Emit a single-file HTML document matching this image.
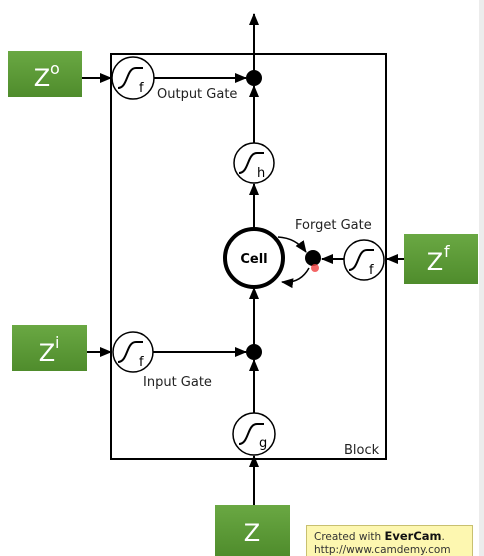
<!DOCTYPE html>
<html><head><style>
html,body{margin:0;padding:0;background:#fff;}
body{width:484px;height:556px;overflow:hidden;position:relative;font-family:"DejaVu Sans","Liberation Sans",sans-serif;}
</style></head><body>
<svg width="484" height="556" viewBox="0 0 484 556" xmlns="http://www.w3.org/2000/svg" style="position:absolute;left:0;top:0">
<defs>
<marker id="a" markerWidth="12" markerHeight="12" refX="11" refY="6" orient="auto" markerUnits="userSpaceOnUse">
<path d="M0,1 L12,6 L0,11 Z" fill="#000"/></marker>
<linearGradient id="g" x1="0" y1="0" x2="0" y2="1"><stop offset="0" stop-color="#6aa843"/><stop offset="1" stop-color="#4f8c2c"/></linearGradient>
<g id="sig"><path d="M-13,10 C-3,10 -5,-10 5,-10 L12,-10" fill="none" stroke="#000" stroke-width="2"/></g>
</defs>
<rect x="479" y="0" width="5" height="556" fill="#ececec"/>
<rect x="111" y="54" width="275" height="405" fill="none" stroke="#000" stroke-width="2"/>
<line x1="254" y1="71" x2="254" y2="14" stroke="#000" stroke-width="2" marker-end="url(#a)"/>
<line x1="254" y1="143" x2="254" y2="86" stroke="#000" stroke-width="2" marker-end="url(#a)"/>
<line x1="254" y1="229" x2="254" y2="184" stroke="#000" stroke-width="2" marker-end="url(#a)"/>
<line x1="254" y1="345" x2="254" y2="288" stroke="#000" stroke-width="2" marker-end="url(#a)"/>
<line x1="254" y1="413" x2="254" y2="360" stroke="#000" stroke-width="2" marker-end="url(#a)"/>
<line x1="254" y1="505" x2="254" y2="456" stroke="#000" stroke-width="2" marker-end="url(#a)"/>
<line x1="82" y1="78" x2="111" y2="78" stroke="#000" stroke-width="2" marker-end="url(#a)"/>
<line x1="154" y1="78" x2="246" y2="78" stroke="#000" stroke-width="2" marker-end="url(#a)"/>
<circle cx="254" cy="78" r="8" fill="#000"/>
<circle cx="133" cy="78" r="21" fill="#fff" stroke="#000" stroke-width="1.5"/>
<use href="#sig" x="131" y="78"/><text x="139" y="92" font-size="13">f</text>
<text x="157" y="98" font-size="13" fill="#222">Output Gate</text>
<circle cx="254" cy="163" r="20" fill="#fff" stroke="#000" stroke-width="1.5"/>
<use href="#sig" x="252" y="163"/><text x="257" y="177" font-size="13">h</text>
<circle cx="254" cy="258" r="29" fill="#fff" stroke="#000" stroke-width="4"/>
<text x="254" y="263" font-size="13" font-weight="bold" text-anchor="middle">Cell</text>
<path d="M278,237 Q296,238 306,252" fill="none" stroke="#000" stroke-width="1.5" marker-end="url(#a)"/>
<path d="M309,268 Q300,284 282,282" fill="none" stroke="#000" stroke-width="1.5" marker-end="url(#a)"/>
<circle cx="313" cy="258" r="8" fill="#000"/>
<circle cx="315" cy="268" r="4" fill="#f04040" opacity="0.8"/>
<line x1="344" y1="259" x2="322" y2="259" stroke="#000" stroke-width="2" marker-end="url(#a)"/>
<circle cx="364" cy="260" r="20" fill="#fff" stroke="#000" stroke-width="1.5"/>
<use href="#sig" x="362" y="260"/><text x="369" y="274" font-size="13">f</text>
<text x="295" y="229" font-size="13" fill="#222">Forget Gate</text>
<line x1="404" y1="259" x2="387" y2="259" stroke="#000" stroke-width="2" marker-end="url(#a)"/>
<line x1="87" y1="352" x2="111" y2="352" stroke="#000" stroke-width="2" marker-end="url(#a)"/>
<line x1="153" y1="352" x2="246" y2="352" stroke="#000" stroke-width="2" marker-end="url(#a)"/>
<circle cx="254" cy="352" r="8" fill="#000"/>
<circle cx="133" cy="352" r="20" fill="#fff" stroke="#000" stroke-width="1.5"/>
<use href="#sig" x="131" y="352"/><text x="139" y="366" font-size="13">f</text>
<text x="143" y="386" font-size="13" fill="#222">Input Gate</text>
<circle cx="254" cy="434" r="21" fill="#fff" stroke="#000" stroke-width="1.5"/>
<use href="#sig" x="252" y="434"/><text x="259" y="447" font-size="13">g</text>
<text x="344" y="454" font-size="13" fill="#222">Block</text>
<rect x="8" y="51" width="74" height="46" fill="url(#g)"/>
<text x="42" y="86" font-size="24" fill="#fff" text-anchor="middle">Z</text><text x="50" y="74" font-size="16" fill="#fff">o</text>
<rect x="12" y="325" width="75" height="46" fill="url(#g)"/>
<text x="47" y="361" font-size="24" fill="#fff" text-anchor="middle">Z</text><text x="55" y="348" font-size="16" fill="#fff">i</text>
<rect x="404" y="234" width="74" height="50" fill="url(#g)"/>
<text x="435" y="270" font-size="24" fill="#fff" text-anchor="middle">Z</text><text x="444" y="257" font-size="16" fill="#fff">f</text>
<rect x="215" y="505" width="75" height="51" fill="url(#g)"/>
<text x="252" y="541" font-size="24" fill="#fff" text-anchor="middle">Z</text>
<rect x="306.5" y="525.5" width="166" height="31" fill="#fdf7b0" stroke="#c8c070"/>
<text x="314" y="540" font-size="10.5" fill="#333">Created with <tspan font-weight="bold" font-size="11.5" fill="#111">EverCam</tspan>.</text>
<text x="314" y="553" font-size="10.5" fill="#333">http://www.camdemy.com</text>
</svg>
</body></html>
